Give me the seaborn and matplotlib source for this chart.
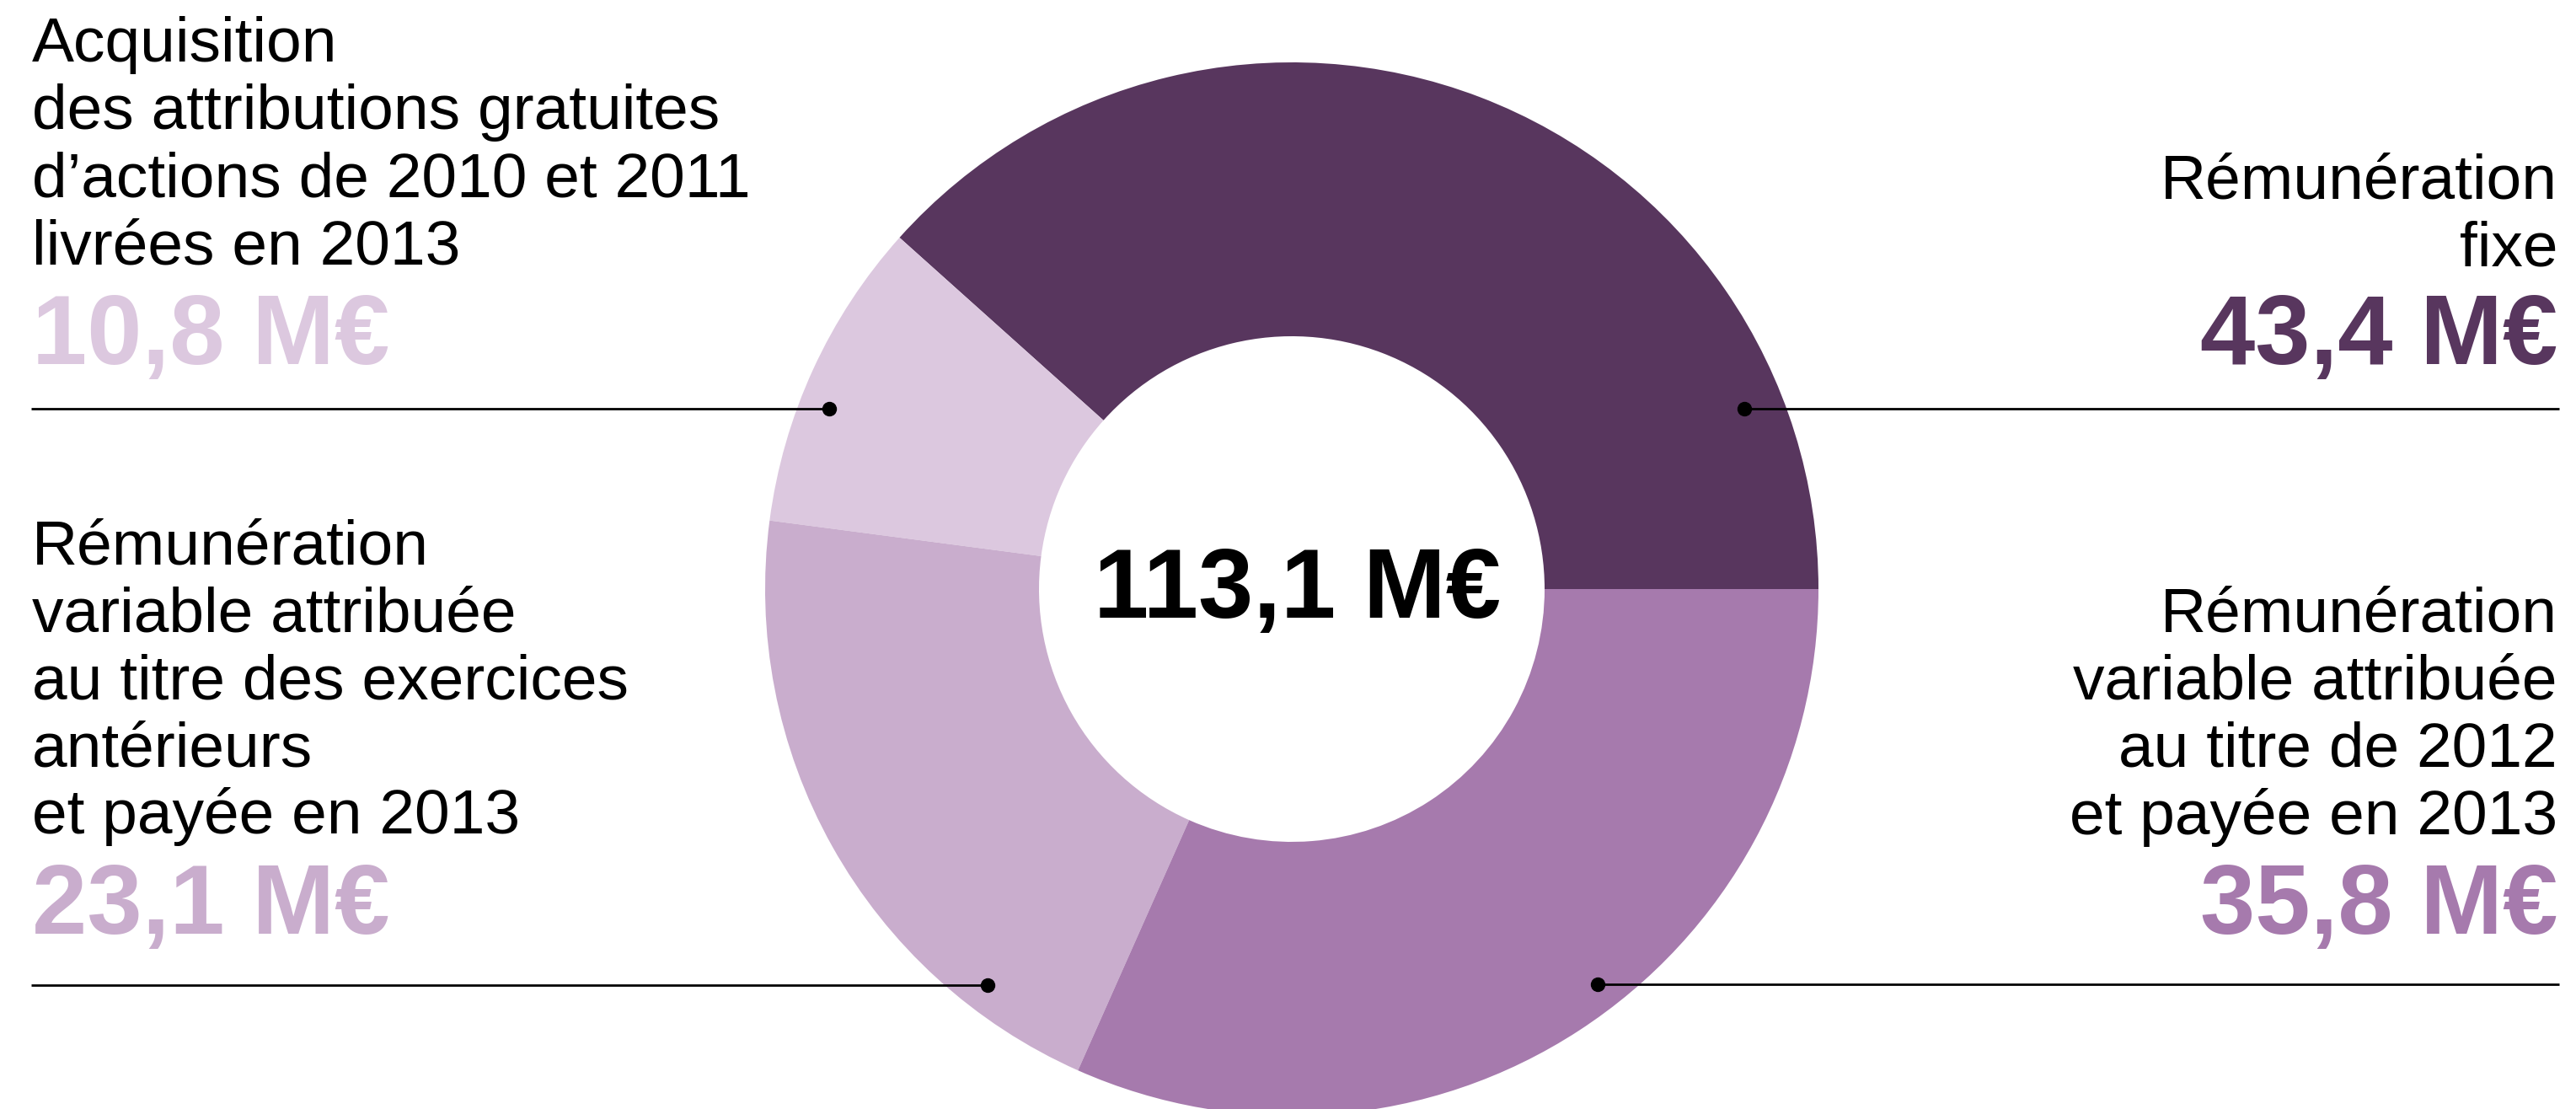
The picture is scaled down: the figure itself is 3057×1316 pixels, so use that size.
import matplotlib
matplotlib.use("Agg")
import matplotlib.pyplot as plt
import seaborn as sns

# données
categories = ["Rémunération fixe",
              "Acquisition des attributions gratuites",
              "Rémunération variable exercices antérieurs",
              "Rémunération variable 2012"]
values = [43.4, 10.8, 23.1, 35.8]
value_labels = ["43,4 M€", "10,8 M€", "23,1 M€", "35,8 M€"]
label_lines = [
    ["Rémunération", "fixe"],
    ["Acquisition", "des attributions gratuites", "d’actions de 2010 et 2011", "livrées en 2013"],
    ["Rémunération", "variable attribuée", "au titre des exercices", "antérieurs", "et payée en 2013"],
    ["Rémunération", "variable attribuée", "au titre de 2012", "et payée en 2013"],
]
total_label = "113,1 M€"
colors = ["#58365E", "#DCC8DF", "#C9ADCD", "#A67AAD"]

sns.set_theme(style="white")
plt.rcParams["font.family"] = ["Liberation Sans", "DejaVu Sans"]

W, H = 3057, 1316
fig = plt.figure(figsize=(W / 100, H / 100), dpi=100)
ax = fig.add_axes([0, 0, 1, 1])

def py(y):
    return H - y

# anneau
cx, cy, R, r_in = 1533, 699, 625, 300
ax.pie(values, colors=colors, startangle=0, counterclock=True,
       radius=R, center=(cx, py(cy)), frame=True,
       wedgeprops=dict(width=R - r_in, linewidth=0))

ax.text(1539, py(733), total_label, ha="center", va="baseline",
        fontsize=84.5, fontweight="bold", color="black")

# mise en page des étiquettes : (côté, x texte, baseline 1re ligne, baseline valeur, y ligne, x point)
layout = [
    ("right", 3035, 235, 432, 485, 2070),
    ("left", 38, 73, 432, 485, 984),
    ("left", 38, 669, 1108, 1169, 1172),
    ("right", 3035, 750, 1108, 1168, 1896),
]
step = 80

for lines, vlab, col, (side, tx, y0, yv, yl, xd) in zip(label_lines, value_labels, colors, layout):
    for i, s in enumerate(lines):
        ax.text(tx, py(y0 + i * step), s, ha=side, va="baseline",
                fontsize=54, color="black")
    ax.text(tx, py(yv), vlab, ha=side, va="baseline",
            fontsize=84.5, fontweight="bold", color=col)
    x_end = 37 if side == "left" else 3037
    ax.plot([x_end, xd], [py(yl), py(yl)], color="black", lw=2, solid_capstyle="butt")
    ax.plot([xd], [py(yl)], "o", color="black", ms=11.5)

ax.set_xlim(0, W)
ax.set_ylim(0, H)
ax.set_aspect("auto")
ax.axis("off")

fig.savefig("out.png", dpi=100, facecolor="white")
